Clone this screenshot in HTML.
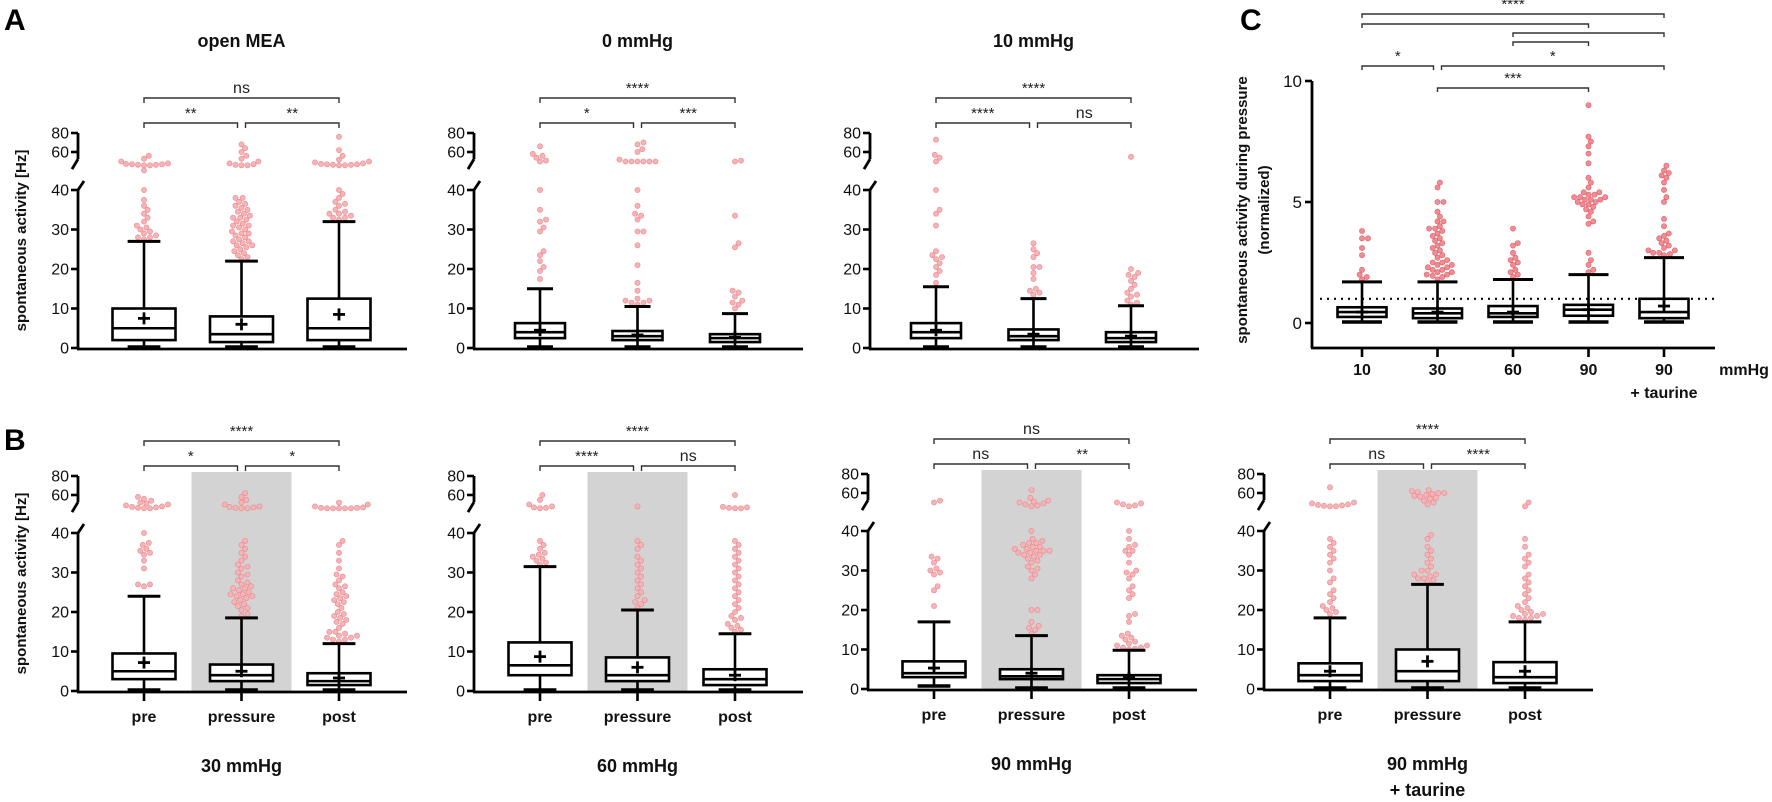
<!DOCTYPE html>
<html><head><meta charset="utf-8"><style>
html,body{margin:0;padding:0;background:#fff;}
svg{display:block;font-family:"Liberation Sans",sans-serif;}
</style></head><body>
<svg id="fig" width="1772" height="802" viewBox="0 0 1772 802" xmlns="http://www.w3.org/2000/svg"></svg>
<script>
// ---------- data (Hz): box = [whiskerLow, q1, median, q3, whiskerHigh, mean]
const groupsPPP = ["pre","pressure","post"];
const A1_box = [[0,2,5,10,27,7.5],[0,1.5,3.5,8,22,6],[0,2,5,12.5,32,8.5]];
const A2_box = [[0,2.5,4,6.3,15,4.5],[0,2,3,4.3,10.5,3.3],[0,1.5,2.5,3.5,8.7,2.7]];
const A3_box = [[0,2.5,4,6.3,15.5,4.5],[0,2,3,4.7,12.5,3.5],[0,1.5,2.5,4,10.7,3]];
const B1_box = [[0,3,5,9.5,24,7.2],[0,2.5,4,6.7,18.5,5],[0,1.5,2.5,4.5,12,3.3]];
const B2_box = [[0,4,6.5,12.3,31.5,8.7],[0,2.5,4,8.5,20.5,6],[0,1.5,3,5.5,14.5,4]];
const B3_box = [[0.5,3,4,7,17,5.3],[0,2.5,3.2,5,13.5,4],[0,1.5,2.5,3.5,9.8,2.8]];
const B4_box = [[0,2,3.5,6.5,18,4.5],[0,2,4.5,10,26.5,7],[0,1.5,3,6.8,17,4.5]];

const A1_out = [
 [27.5,28,28,28.5,29,29.5,30,30.5,31,32,33,34,35,36,37.5,40,40.5,46,46,46.5,46.5,47,47,47.5,48,50,53,56],
 [22.5,23,23.5,24,24.5,25,25.5,26,26,26.5,27,27,27.5,28,28.5,29,29,29.5,30,30.5,31,31,31.5,32,32.5,33,33,33.5,34,34.5,35,35.5,36,36.5,37,38,38,46,46,46.5,47,48,50,53,56,60,64,68],
 [32.5,33,33,33.5,34,34,34.5,35,36,36.5,37,38,39,40,46,46,46.5,46.5,47,47,47.5,48,49,50,52,56,62,76]];
const A2_out = [
 [17.5,19.5,20.5,22,23.5,24.5,29.5,30.5,32,32.5,35,40,50,51,54,56,58,66],
 [11,11.5,11.5,12,12,12.5,14.5,16.5,21,26,29.5,29.5,32.5,33.5,34,36,40,50,50,50,50,50,50,52,60,63,68,70],
 [10,11,11.5,12,13,14,14.5,25.5,26.5,33.5,50,51]];
const A3_out = [
 [16.5,18.5,19.5,20.5,21.5,22.5,23,23.5,24.5,31,34,35,40,50,54,57,73],
 [13.5,14,14.5,15,17.5,19,20.5,20.5,23,24,25,26.5],
 [11,11.5,12,13,13.5,14,15,16,17,18,18.5,19,20,55]];
const B1_out = [
 [26.5,27,27,31,33,34.5,35,35.5,36,37,37.5,40,46,46,46.5,47,47.5,48,49,50,51,52,54,56,58],
 [19,19.5,20.5,21,21.5,22,22.5,23,23.5,24,24,24.5,24.5,25,25.5,26,26,26.5,27,27.5,28,29,29.5,30,31,31.5,32,33,34,35,36,37,38,46,46,46.5,47,47.5,48,50,52,55,58,62],
 [12.5,13,13,13.5,13.5,14,14,14.5,15,15,16,17,17.5,18,18.5,19,19.5,20,21,22,22.5,23,23.5,24,24.5,25,26,26.5,27,28,29,29.5,31,33,35,37,38,46,46,46,46,46,46.5,46.5,47,48,50,52]];
const B2_out = [
 [32,32.5,33,33.5,34,34.5,35,36,37,38,46,46.5,47,48,50,55,60],
 [21,22,22.5,23,24,25,26,27,28,29,30,31,32,33,34,36,37,38,48],
 [15,15.5,16,16.5,17,18,18.5,19,20,21,22,23,24,25,26,27,28,29,30,31,32,33,34,35,36,37,38,46,46,46.5,47,47.5,60]];
const B3_out = [
 [21,25,26,29,29.5,30,30.5,32,33,33.5,50,52],
 [14,15,15.5,16,17,20,20,28,29,30,30.5,31,32,32.5,33,33.5,34,34,34.5,34.5,35,35,35,35.5,35.5,36,36,36.5,37,37,37.5,38,40,46,47,48,49,50,51,52,55,63],
 [10,10.2,10.5,10.5,11,11,11.5,12,12.5,13,13.5,14,17,18.5,19,23,24,25,26,28,29,29.5,30,32,34,35,35,36,36.5,38,40,46,47,48,49,50]];
const B4_out = [
 [19,19.5,20,20.5,21,22,23,24,25,27,28,30,32,33,34,35,36,37,38,46,46,46.5,47,47.5,48,49,50,66],
 [27,27.5,28,28,28.5,29,29,30,30,31,32,33,34,35,36,38,39,48,50,52,54,55,56,57,58,59,60,60,61,62,63],
 [17.5,18,18,18.5,18.5,19,19,19.5,20,20.5,21,22,23,24,25,26,27,28,29,31,32,33,34,36,38,46,50]];

const A1_sig = ["ns","**","**"];
const A2_sig = ["****","*","***"];
const A3_sig = ["****","****","ns"];
const B1_sig = ["****","*","*"];
const B2_sig = ["****","****","ns"];
const B3_sig = ["ns","ns","**"];
const B4_sig = ["****","ns","****"];

const hzTicks = [0,10,20,30,40];
const hzTicksUpper = [60,80];

// Panel C (normalized)
const C_cats = ["10","30","60","90","90"];
const C_box = [[0,0.25,0.45,0.65,1.7,0.45],[0,0.2,0.4,0.6,1.7,0.45],[0,0.25,0.4,0.7,1.8,0.45],[0,0.3,0.55,0.75,2.0,0.55],[0,0.2,0.45,1.0,2.7,0.7]];
const C_out = [
 [1.8,1.9,2.0,2.2,2.8,3.1,3.5,3.5,3.8],
 [1.8,1.9,1.95,2.0,2.0,2.1,2.1,2.2,2.2,2.3,2.3,2.4,2.4,2.5,2.5,2.6,2.7,2.8,2.9,3.0,3.1,3.2,3.3,3.4,3.5,3.6,3.7,3.8,3.9,3.9,4.0,4.2,4.2,4.4,4.6,5.0,5.0,5.6,5.8],
 [1.9,2.0,2.1,2.2,2.4,2.5,2.6,2.7,2.9,3.2,3.3,3.9],
 [2.1,2.2,2.4,2.6,2.9,4.1,4.2,4.4,4.6,4.7,4.8,4.9,4.9,5.0,5.0,5.1,5.1,5.1,5.2,5.2,5.2,5.3,5.3,5.4,5.4,5.6,5.8,6.0,6.6,7.0,7.3,7.5,7.7,9.0],
 [2.8,2.85,2.9,2.9,3.0,3.0,3.1,3.2,3.3,3.4,3.5,3.6,3.7,4.0,4.3,5.0,5.2,5.5,5.8,6.0,6.1,6.2,6.3,6.5]];
const C_ticks = [0,5,10];
const C_refLine = 1;
// C comparisons: [fromIdx, toIdx, label]
const C_sig = [[0,4,"****"],[0,3,""],[2,4,""],[2,3,""],[0,1,"*"],[1,4,"*"],[1,3,"***"]];

// ---------- drawing
const NS="http://www.w3.org/2000/svg";
const svg=document.getElementById('fig');
function mk(tag,attrs,parent){const e=document.createElementNS(NS,tag);for(const k in attrs)e.setAttribute(k,attrs[k]);(parent||svg).appendChild(e);return e;}
function txt(s,x,y,attrs,parent){const e=mk('text',Object.assign({x:x,y:y},attrs),parent);e.textContent=s;return e;}

function swarm(g,vals,cx,yf,r,color,edge){
  const pts=[];const sorted=vals.slice().sort((a,b)=>a-b);
  sorted.forEach(v=>{
    const y=yf(v);let off=0,k=0;
    while(true){
      off=(k===0)?0:((k%2)?Math.ceil(k/2):-Math.ceil(k/2))*1.2;
      let ok=true;
      for(const p of pts){const dx=p[0]-(cx+off),dy=p[1]-y;if(dx*dx+dy*dy<(2*r)*(2*r)){ok=false;break;}}
      if(ok)break;k++; if(k>200)break;
    }
    pts.push([cx+off,y]);
    const c=mk('circle',{cx:(cx+off).toFixed(1),cy:y.toFixed(1),r:r,fill:color,stroke:edge,'stroke-width':0.6},g);
    
    
  });
}

function boxplot(g,b,cx,bw,yf,capW){
  const [lo,q1,md,q3,hi,mn]=b;
  const sw=2.6;
  mk('line',{x1:cx,x2:cx,y1:yf(hi),y2:yf(q3),stroke:'#000','stroke-width':sw},g);
  mk('line',{x1:cx,x2:cx,y1:yf(q1),y2:yf(lo),stroke:'#000','stroke-width':sw},g);
  mk('line',{x1:cx-capW/2,x2:cx+capW/2,y1:yf(hi),y2:yf(hi),stroke:'#000','stroke-width':3},g);
  mk('line',{x1:cx-capW/2,x2:cx+capW/2,y1:yf(lo)-1,y2:yf(lo)-1,stroke:'#000','stroke-width':3.5},g);
  const r=mk('rect',{x:cx-bw/2,y:yf(q3),width:bw,height:Math.max(1,yf(q1)-yf(q3)),fill:'#fff',stroke:'#000','stroke-width':sw},g);
  
  
  mk('line',{x1:cx-bw/2,x2:cx+bw/2,y1:yf(md),y2:yf(md),stroke:'#000','stroke-width':sw},g);
  const my=yf(mn);
  mk('line',{x1:cx-6,x2:cx+6,y1:my,y2:my,stroke:'#000','stroke-width':2.8},g);
  mk('line',{x1:cx,x2:cx,y1:my-6,y2:my+6,stroke:'#000','stroke-width':2.8},g);
}

function bracket(g,x1,x2,y,label,tick){
  tick=tick||5;
  mk('path',{d:`M${x1},${y+tick}V${y}H${x2}V${y+tick}`,fill:'none',stroke:'#333','stroke-width':1.4},g);
  if(label){const t=txt(label,(x1+x2)/2,y-5,{'text-anchor':'middle','font-size':label==='ns'?16:15,fill:'#222'},g);
    
    }
}

function hzPanel(name,axisX,y0,gx,bw,box,out,sig,opts){
  const g=mk('g',{});
  
  
  const yf=v=> v<=40 ? y0 - v*3.95 : (y0-196) - (v-60)*0.95;
  const endX=axisX+329;
  if(opts.gray){const gr=mk('rect',{x:gx[1]-50,y:y0-219,width:100,height:219,fill:'#d3d3d3'},g);
    
    }
  for(let i=0;i<3;i++) swarm(g,out[i],gx[i],yf,2.6,'#f7b3b6','#e8888e');
  for(let i=0;i<3;i++) boxplot(g,box[i],gx[i],bw,yf,bw*0.52);
  const ax=mk('g',{},g);
  
  
  mk('line',{x1:axisX,x2:axisX,y1:y0+1,y2:yf(40),stroke:'#000','stroke-width':2.8},ax);
  mk('line',{x1:axisX,x2:axisX+6,y1:yf(40),y2:yf(40)-9,stroke:'#000','stroke-width':2.8},ax);
  mk('line',{x1:axisX,x2:axisX,y1:yf(80),y2:yf(52.5),stroke:'#000','stroke-width':2.8},ax);
  mk('line',{x1:axisX,x2:axisX-6,y1:yf(52.5),y2:yf(52.5)+10,stroke:'#000','stroke-width':2.8},ax);
  hzTicks.concat(hzTicksUpper).forEach(v=>{
    const y=yf(v);
    mk('line',{x1:axisX-7,x2:axisX,y1:y,y2:y,stroke:'#000','stroke-width':2.6},ax);
    const t=txt(String(v),axisX-9,y+5.5,{'text-anchor':'end','font-size':16,fill:'#111'},ax);
    
    
  });
  mk('line',{x1:axisX-1,x2:endX,y1:y0+1,y2:y0+1,stroke:'#000','stroke-width':2.8},g);
  if(opts.xlabels){
    gx.forEach((x,i)=>{
      mk('line',{x1:x,x2:x,y1:y0+1,y2:y0+10,stroke:'#000','stroke-width':2.6},g);
      const t=txt(groupsPPP[i],x,y0+31,{'text-anchor':'middle','font-size':16,'font-weight':'bold',fill:'#111'},g);
      
      
    });
  }
  bracket(g,gx[0],gx[2],y0-250,sig[0]);
  bracket(g,gx[0],gx[1]-4,y0-225,sig[1]);
  bracket(g,gx[1]+4,gx[2],y0-225,sig[2]);
  const lines=opts.title.split('\n');
  lines.forEach((l,k)=>{
    const t=txt(l,gx[1],opts.titleY+k*26,{'text-anchor':'middle','font-size':18,'font-weight':'bold',fill:'#111'},g);
    
    
  });
  if(opts.ylabel){
    const cy=(yf(80)+y0)/2;
    const t=txt('spontaneous activity [Hz]',0,0,{'text-anchor':'middle','font-size':15,'font-weight':'bold',fill:'#111',transform:`translate(${opts.ylabelX},${cy}) rotate(-90)`},g);
    
    
  }
}

const sp=97.5;
function gxs(a){return [a+66,a+66+sp,a+66+2*sp];}
hzPanel('panel-open-mea',78,348,gxs(78),63,A1_box,A1_out,A1_sig,{title:'open MEA',titleY:47,ylabel:true,ylabelX:26});
hzPanel('panel-0-mmhg',474,348,gxs(474),50,A2_box,A2_out,A2_sig,{title:'0 mmHg',titleY:47});
hzPanel('panel-10-mmhg',870,348,gxs(870),50,A3_box,A3_out,A3_sig,{title:'10 mmHg',titleY:47});
hzPanel('panel-30-mmhg',78,691,gxs(78),63,B1_box,B1_out,B1_sig,{title:'30 mmHg',titleY:772,gray:true,xlabels:true,ylabel:true,ylabelX:26});
hzPanel('panel-60-mmhg',474,691,gxs(474),63,B2_box,B2_out,B2_sig,{title:'60 mmHg',titleY:772,gray:true,xlabels:true});
hzPanel('panel-90-mmhg',868,689,gxs(868),63,B3_box,B3_out,B3_sig,{title:'90 mmHg',titleY:770,gray:true,xlabels:true});
hzPanel('panel-90-mmhg-taurine',1264,689,gxs(1264),63,B4_box,B4_out,B4_sig,{title:'90 mmHg\n+ taurine',titleY:770,gray:true,xlabels:true});

// panel C
(function(){
  const g=mk('g',{});
  
  
  const axisX=1312,endX=1715,axY=348;
  const yf=v=>323 - v*24.2;
  const cx=i=>1362+i*75.5;
  const rl=mk('line',{x1:axisX+8,x2:endX,y1:yf(C_refLine),y2:yf(C_refLine),stroke:'#000','stroke-width':2.2,'stroke-dasharray':'2 5'},g);
  
  
  C_out.forEach((o,i)=>swarm(g,o,cx(i),yf,2.6,'#f28c92','#d9606a'));
  C_box.forEach((b,i)=>boxplot(g,b,cx(i),49,yf,40));
  mk('line',{x1:axisX,x2:axisX,y1:yf(10),y2:axY,stroke:'#000','stroke-width':2.8},g);
  mk('line',{x1:axisX-1,x2:endX,y1:axY,y2:axY,stroke:'#000','stroke-width':2.8},g);
  C_ticks.forEach(v=>{
    mk('line',{x1:axisX-7,x2:axisX,y1:yf(v),y2:yf(v),stroke:'#000','stroke-width':2.6},g);
    const t=txt(String(v),axisX-10,yf(v)+6,{'text-anchor':'end','font-size':17,fill:'#111'},g);
    
    
  });
  C_cats.forEach((c,i)=>{
    mk('line',{x1:cx(i),x2:cx(i),y1:axY,y2:axY+9,stroke:'#000','stroke-width':2.6},g);
    const t=txt(c,cx(i),axY+27,{'text-anchor':'middle','font-size':16,'font-weight':'bold',fill:'#111'},g);
    
    
  });
  const tt=txt('+ taurine',cx(4),axY+50,{'text-anchor':'middle','font-size':16,'font-weight':'bold',fill:'#111'},g);
  
  
  const mu=txt('mmHg',1744,axY+27,{'text-anchor':'middle','font-size':16,'font-weight':'bold',fill:'#111'},g);
  
  
  const l1=txt('spontaneous activity during pressure',0,0,{'text-anchor':'middle','font-size':15,'font-weight':'bold',fill:'#111',transform:'translate(1247,210) rotate(-90)'},g);
  
  
  const l2=txt('(normalized)',0,0,{'text-anchor':'middle','font-size':15,'font-weight':'bold',fill:'#111',transform:'translate(1269,210) rotate(-90)'},g);
  
  
  const ys=[14,24,33,42,66,66,88];
  C_sig.forEach((s,k)=>{
    let x1=cx(s[0]),x2=cx(s[1]);
    if(k===4)x2-=4; if(k===5)x1+=4;
    bracket(g,x1,x2,ys[k],s[2],4);
  });
})();

// panel letters
[['A',4,30],['B',4,450],['C',1240,30]].forEach(p=>{
  const t=txt(p[0],p[1],p[2],{'font-size':30,'font-weight':'bold',fill:'#000'});
  
  
});
</script>
</body></html>
